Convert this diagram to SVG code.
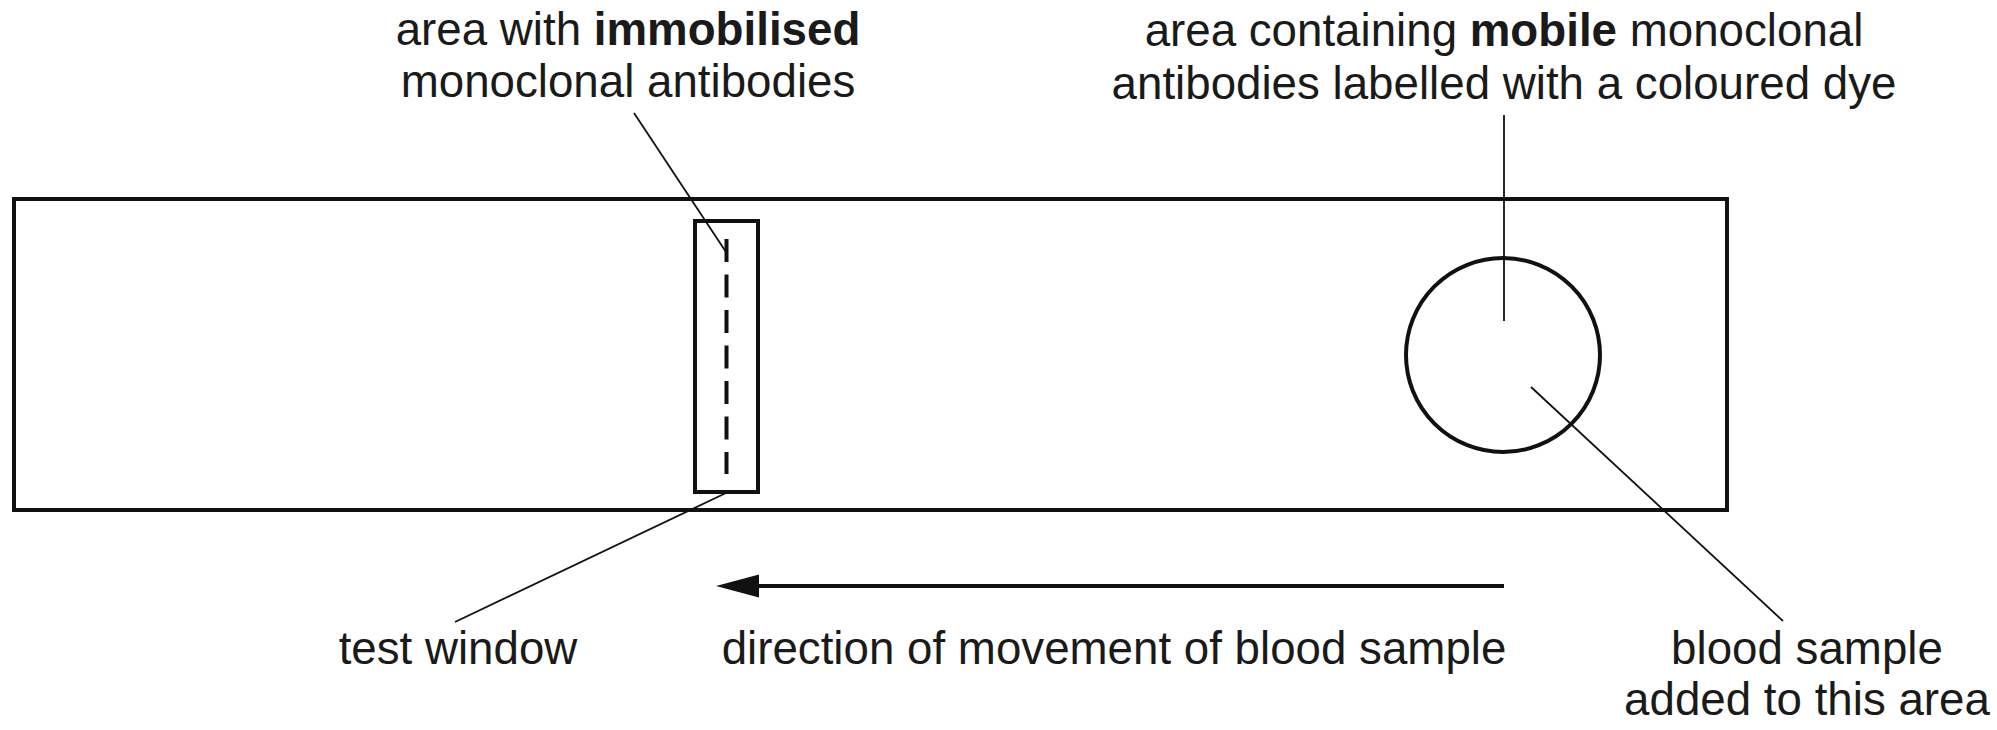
<svg xmlns="http://www.w3.org/2000/svg" width="1997" height="730" viewBox="0 0 1997 730">
<style>
.t{font-family:"Liberation Sans",Arial,sans-serif;font-size:45.7px;fill:#1a1a1a;text-anchor:middle}
.b{font-weight:bold}
.thick{fill:none;stroke:#111;stroke-width:4}
.lead{fill:none;stroke:#111;stroke-width:1.8}
</style>
<rect width="1997" height="730" fill="#fff"/>
<g id="strip"><rect class="thick" x="14" y="199" width="1713" height="311"/></g>
<g id="test-window">
<rect class="thick" x="695" y="221" width="63" height="271"/>
<line x1="726.5" y1="239" x2="726.5" y2="474" stroke="#111" stroke-width="4" stroke-dasharray="23 12.5"/>
</g>
<g id="sample-area"><circle class="thick" cx="1503" cy="355" r="97"/></g>
<g id="connectors">
<line class="lead" x1="634" y1="113" x2="726" y2="252"/>
<line class="lead" x1="1504" y1="115" x2="1504" y2="321"/>
<line class="lead" x1="1531" y1="387" x2="1783" y2="621"/>
<line class="lead" x1="726" y1="493" x2="455" y2="622"/>
<line x1="756" y1="586" x2="1504" y2="586" stroke="#111" stroke-width="4"/>
<polygon points="716,586 759,574.5 759,597.5" fill="#111"/>
</g>
<g id="label-immobilised">
<text class="t" x="628" y="45">area with <tspan class="b">immobilised</tspan></text>
<text class="t" x="628" y="97">monoclonal antibodies</text>
</g>
<g id="label-mobile">
<text class="t" x="1504" y="46">area containing <tspan class="b">mobile</tspan> monoclonal</text>
<text class="t" x="1504" y="99">antibodies labelled with a coloured dye</text>
</g>
<g id="label-test-window"><text class="t" x="458" y="664">test window</text></g>
<g id="label-direction"><text class="t" x="1114" y="664">direction of movement of blood sample</text></g>
<g id="label-blood">
<text class="t" x="1807" y="664">blood sample</text>
<text class="t" x="1807" y="715">added to this area</text>
</g>
</svg>
